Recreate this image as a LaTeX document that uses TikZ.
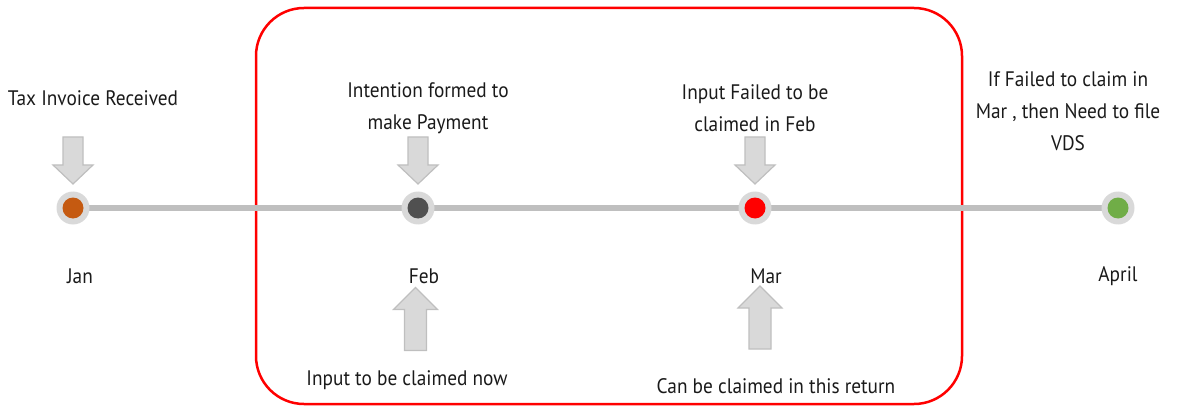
\documentclass[tikz,border=0pt]{standalone}
\usepackage{fontspec}
\setmainfont{PT Sans}[FakeStretch=0.92]
\definecolor{linegray}{HTML}{BFBFBF}
\definecolor{ringgray}{HTML}{D9D9D9}
\definecolor{arrfill}{HTML}{D9D9D9}
\definecolor{arrdraw}{HTML}{BFBFBF}
\definecolor{janc}{HTML}{C55A11}
\definecolor{febc}{HTML}{505050}
\definecolor{marc}{HTML}{FF0000}
\definecolor{aprc}{HTML}{70AD47}
\definecolor{txt}{HTML}{1A1A1A}
\tikzset{
  x=1pt, y=-1pt,
  lbl/.style={font=\fontsize{21}{32}\selectfont, align=center, inner sep=0pt, text=txt},
  ring/.style={circle, fill=ringgray, minimum size=33pt, inner sep=0pt},
  dotin/.style={circle, fill=#1, minimum size=21pt, inner sep=0pt},
  arrowshape/.style={fill=arrfill, draw=arrdraw, line width=1.2pt, line join=miter},
  tline/.style={draw=linegray, line width=6pt},
  frame/.style={draw=red, line width=2.5pt, rounded corners=48pt}
}
% down arrow: centre x, top y
\newcommand{\mydownarrow}[2]{%
  \draw[arrowshape] (#1-10,#2) -- (#1+10,#2) -- (#1+10,#2+28) -- (#1+20,#2+28) -- (#1,#2+47)
    -- (#1-20,#2+28) -- (#1-10,#2+28) -- cycle;}
% up arrow: centre x, tip y
\newcommand{\myuparrow}[2]{%
  \draw[arrowshape] (#1,#2) -- (#1+22,#2+22) -- (#1+11,#2+22) -- (#1+11,#2+63) -- (#1-11,#2+63)
    -- (#1-11,#2+22) -- (#1-22,#2+22) -- cycle;}
\begin{document}
\begin{tikzpicture}
\useasboundingbox (0,0) rectangle (1185,406);
% frame
\draw[frame] (256,8) rectangle (962,404);
% timeline
\coordinate (s) at (73,208);
\coordinate (e) at (1118,208);
\draw[tline] (s) -- (e);
% circles
\node[ring] (janr) at (73,208) {};
\node[dotin=janc] (jan) at (73,208) {};
\node[ring] (febr) at (418,208) {};
\node[dotin=febc] (feb) at (418,208) {};
\node[ring] (marr) at (755,208) {};
\node[dotin=marc] (mar) at (755,208) {};
\node[ring] (aprr) at (1118,208) {};
\node[dotin=aprc] (apr) at (1118,208) {};
% down arrows
\mydownarrow{73}{137}
\mydownarrow{418}{137}
\mydownarrow{755}{137}
% up arrows
\myuparrow{415.5}{287.5}
\myuparrow{760}{286}
% top labels
\node[lbl] (t1) at (93,98) {Tax Invoice Received};
\node[lbl] (t2) at (428,108) {Intention formed to\\make Payment};
\node[lbl] (t3) at (755,108) {Input Failed to be\\claimed in Feb};
\node[lbl] (t4) at (1068,111) {If Failed to claim in\\Mar , then Need to file\\VDS};
% month labels
\node[lbl] (m1) at (80,276) {Jan};
\node[lbl] (m2) at (424,276) {Feb};
\node[lbl] (m3) at (766,276) {Mar};
\node[lbl] (m4) at (1118,276) {April};
% bottom labels
\node[lbl] (b1) at (407,380) {Input to be claimed now};
\node[lbl] (b2) at (776,386) {Can be claimed in this return};
\end{tikzpicture}
\end{document}
